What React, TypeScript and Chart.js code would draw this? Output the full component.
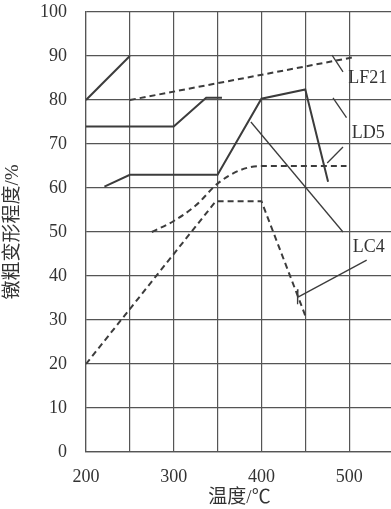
import React, { useEffect, useRef } from "react";
import { Chart, registerables } from "chart.js";

Chart.register(...registerables);

// Axis ranges / ticks
const X_MIN = 200;
const X_MAX = 550;
const X_TICKS = [200, 250, 300, 350, 400, 450, 500];
const X_LABELED = [200, 300, 400, 500];
const Y_MIN = 0;
const Y_MAX = 100;
const Y_TICKS = [0, 10, 20, 30, 40, 50, 60, 70, 80, 90, 100];

const X_TITLE = "温度/℃";
const Y_TITLE = "镦粗变形程度/%";

// Curves (temperature °C, upsetting degree %)
const curveA = [
  { x: 200, y: 80 },
  { x: 250, y: 90 },
];
const curveLF21 = [
  { x: 250, y: 80 },
  { x: 507, y: 89.8 },
];
const curveB = [
  { x: 200, y: 74 },
  { x: 300, y: 74 },
  { x: 337, y: 80.5 },
  { x: 355, y: 80.5 },
];
const curveLD5 = [
  { x: 221, y: 60.3 },
  { x: 250, y: 63 },
  { x: 350, y: 63 },
  { x: 400, y: 80.3 },
  { x: 450, y: 82.4 },
  { x: 476, y: 61.4 },
];
const curveThin = [
  { x: 388, y: 75 },
  { x: 493, y: 50 },
];
const curveLD5Dashed = [
  { x: 275, y: 50 },
  { x: 300, y: 52.5 },
  { x: 325, y: 56 },
  { x: 350, y: 61 },
  { x: 375, y: 64 },
  { x: 400, y: 65 },
  { x: 497, y: 65 },
];
const curveLC4 = [
  { x: 200, y: 20 },
  { x: 348, y: 57 },
  { x: 400, y: 57 },
  { x: 450, y: 31 },
];

// Leader lines
const leaderLF21 = [
  { x: 480.5, y: 90.2 },
  { x: 493, y: 86.4 },
];
const leaderLD5a = [
  { x: 481.6, y: 80.5 },
  { x: 497, y: 76 },
];
const leaderLD5b = [
  { x: 493, y: 69.3 },
  { x: 475, y: 65.7 },
];
const leaderLC4 = [
  { x: 520, y: 43.6 },
  { x: 441.7, y: 35.2 },
];
const leaderLC4Tick = [
  { x: 441.6, y: 37 },
  { x: 441.2, y: 33.6 },
];

// Curve labels
const labelNames = ["LF21", "LD5", "LC4"];
const labelX = [499, 503, 504];
const labelY = [85, 72.5, 46.6];

const INK = "#333333";
const LINE = "#3c3c3c";
const GRID = "#555555";
const FONT = "'Liberation Serif', 'Noto Sans CJK SC', serif";

function lineDs(data: { x: number; y: number }[], opts: any) {
  return {
    data,
    borderColor: LINE,
    borderWidth: 2,
    pointRadius: 0,
    fill: false,
    tension: 0,
    ...opts,
  };
}

const labelPlugin = {
  id: "curveLabels",
  afterDatasetsDraw(chart: any) {
    const { ctx, scales } = chart;
    ctx.save();
    ctx.fillStyle = INK;
    ctx.font = `18px ${FONT}`;
    ctx.textAlign = "left";
    ctx.textBaseline = "middle";
    labelNames.forEach((name, i) => {
      ctx.fillText(
        name,
        scales.x.getPixelForValue(labelX[i]),
        scales.y.getPixelForValue(labelY[i])
      );
    });
    ctx.restore();
  },
};

export default function App() {
  const ref = useRef<HTMLCanvasElement | null>(null);

  useEffect(() => {
    if (!ref.current) return;
    const dash = [6, 4];
    const chart = new Chart(ref.current, {
      type: "line",
      data: {
        datasets: [
          lineDs(curveA, {}),
          lineDs(curveLF21, { borderDash: dash }),
          lineDs(curveB, {}),
          lineDs(curveLD5, {}),
          lineDs(curveThin, { borderWidth: 1.3 }),
          lineDs(curveLD5Dashed, { borderDash: dash, cubicInterpolationMode: "monotone" }),
          lineDs(curveLC4, { borderDash: dash }),
          lineDs(leaderLF21, { borderWidth: 1.3 }),
          lineDs(leaderLD5a, { borderWidth: 1.3 }),
          lineDs(leaderLD5b, { borderWidth: 1.3 }),
          lineDs(leaderLC4, { borderWidth: 1.3 }),
          lineDs(leaderLC4Tick, { borderWidth: 1.3 }),
        ],
      },
      options: {
        animation: false,
        responsive: false,
        maintainAspectRatio: false,
        layout: { padding: { top: 12, right: 0, bottom: 0, left: 0 } },
        plugins: {
          legend: { display: false },
          tooltip: { enabled: false },
        },
        scales: {
          x: {
            type: "linear",
            bounds: "data",
            min: X_MIN,
            max: X_MAX,
            afterBuildTicks(scale: any) {
              scale.ticks = X_TICKS.map((v) => ({ value: v }));
            },
            afterFit(scale: any) {
              scale.height = 57;
              scale.paddingLeft = 0;
              scale.paddingRight = 0;
            },
            ticks: {
              autoSkip: false,
              maxRotation: 0,
              padding: 14,
              color: INK,
              font: { family: FONT, size: 18 },
              callback: (v: any) => (X_LABELED.includes(Math.round(Number(v))) ? String(Math.round(Number(v))) : ""),
            },
            grid: { color: GRID, lineWidth: 1.2, drawTicks: false },
            border: { color: GRID, width: 1.2 },
            title: {
              display: true,
              text: X_TITLE,
              color: INK,
              font: { family: FONT, size: 19 },
              padding: { top: 0, bottom: 0 },
            },
          },
          y: {
            type: "linear",
            bounds: "data",
            min: Y_MIN,
            max: Y_MAX,
            afterBuildTicks(scale: any) {
              scale.ticks = Y_TICKS.map((v) => ({ value: v }));
            },
            afterFit(scale: any) {
              scale.width = 86;
              scale.paddingTop = 0;
              scale.paddingBottom = 0;
            },
            ticks: {
              autoSkip: false,
              padding: 19,
              color: INK,
              font: { family: FONT, size: 18 },
            },
            grid: { color: GRID, lineWidth: 1.2, drawTicks: false },
            border: { color: GRID, width: 1.2 },
            title: {
              display: true,
              text: Y_TITLE,
              color: INK,
              font: { family: FONT, size: 19 },
              padding: { top: 2, bottom: 0 },
            },
          },
        },
      },
      plugins: [labelPlugin],
    } as any);
    return () => chart.destroy();
  }, []);

  return (
    <div
      style={{
        position: "fixed",
        left: 0,
        top: 0,
        width: 391,
        height: 509,
        overflow: "hidden",
        background: "#ffffff",
      }}
    >
      <canvas ref={ref} width={393} height={509} style={{ width: 393, height: 509, display: "block" }} />
    </div>
  );
}
